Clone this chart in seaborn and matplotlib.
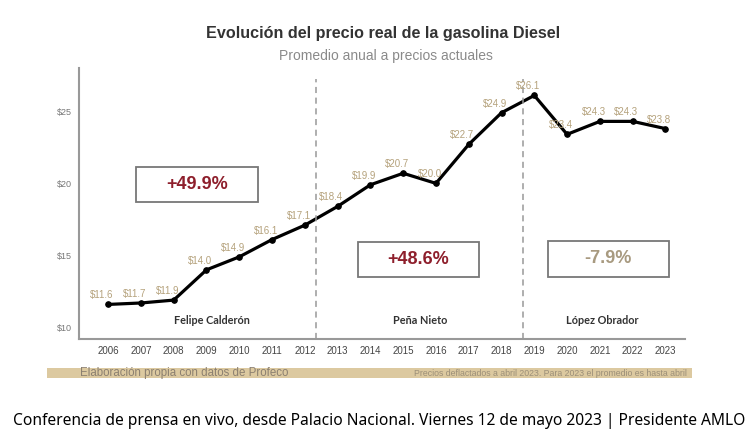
import numpy as np
import pandas as pd
import matplotlib.pyplot as plt
import seaborn as sns
from matplotlib.patches import Rectangle

# datos
years = list(range(2006, 2024))
precio = [11.6, 11.7, 11.9, 14.0, 14.9, 16.1, 17.1, 18.4, 19.9, 20.7,
          20.0, 22.7, 24.9, 26.1, 23.4, 24.3, 24.3, 23.8]
sexenios = ["Felipe Calderón", "Peña Nieto", "López Obrador"]
cambios = ["+49.9%", "+48.6%", "-7.9%"]
y_ticks = [10, 15, 20, 25]

df = pd.DataFrame({"anio": years, "precio": precio})

sns.set_theme(style="white")
plt.rcParams['font.family'] = ['Liberation Sans', 'DejaVu Sans']

fig = plt.figure(figsize=(7.5, 4.42), dpi=100)
ax = fig.add_axes([0.1053, 0.233, 0.8077, 0.613])

sns.lineplot(data=df, x="anio", y="precio", ax=ax, color="black", lw=2.3,
             marker="o", markersize=4, markeredgecolor="black")

for x, y in zip(years, precio):
    ax.annotate(f"${y:.1f}", (x, y), xytext=(-4.5, 6.5), textcoords="offset points",
                ha="center", va="center", fontsize=7, color="#b5a27c")

ax.set_xlim(2005.11, 2023.59)
ax.set_ylim(9.2, 28.0)
ax.set_xticks(years)
ax.set_xticklabels([str(y) for y in years], fontsize=7, color="#444")
ax.set_yticks(y_ticks)
ax.set_yticklabels([f"${t}" for t in y_ticks], fontsize=6.5, color="#777")
ax.tick_params(axis="both", length=0, pad=5)
ax.set_xlabel("")
ax.set_ylabel("")
sns.despine(ax=ax)
for s in ["left", "bottom"]:
    ax.spines[s].set_color("#999999")
    ax.spines[s].set_linewidth(1.5)

# cambios de sexenio
for xv in [2012.35, 2018.67]:
    ax.axvline(xv, ymin=0, ymax=0.96, color="#999999", lw=1.1, ls=(0, (4, 3)))

# cajas con el cambio porcentual
cajas = [(2006.85, 18.72, 3.72, 2.42), (2013.61, 13.52, 3.70, 2.42), (2019.41, 13.52, 3.69, 2.49)]
colores = ["#8e1f2c", "#8e1f2c", "#a89a80"]
for (x0, y0, w, h), txt, c in zip(cajas, cambios, colores):
    ax.add_patch(Rectangle((x0, y0), w, h, fill=True, facecolor="white",
                           edgecolor="#777777", lw=1.3, zorder=3))
    ax.text(x0 + w / 2, y0 + h / 2, txt, ha="center", va="center",
            fontsize=13, fontweight="bold", color=c, zorder=4)

# nombres
for xp, name in zip([2009.16, 2015.53, 2021.08], sexenios):
    ax.text(xp, 10.46, name, ha="center", va="center", fontsize=7.8,
            fontweight="bold", color="#333333", family=["Lato", "DejaVu Sans"])

# titulos
fig.text(0.511, 0.925, "Evolución del precio real de la gasolina Diesel",
         ha="center", va="center", fontsize=11.6, fontweight="bold", color="#333333")
fig.text(0.514, 0.873, "Promedio anual a precios actuales",
         ha="center", va="center", fontsize=10, color="#8a8a8a")

# banda de fuente
fig.patches.append(Rectangle((47 / 750, 1 - 378 / 442), 645 / 750, 10 / 442,
                             transform=fig.transFigure, facecolor="#dcc9a0",
                             edgecolor="none"))
fig.text(80 / 750, 1 - 373 / 442, "Elaboración propia con datos de Profeco",
         ha="left", va="center", fontsize=8.3, color="#8c8070")
fig.text(687 / 750, 1 - 373 / 442,
         "Precios deflactados a abril 2023. Para 2023 el promedio es hasta abril",
         ha="right", va="center", fontsize=6.3, color="#9c8f78")

fig.text(13 / 750, 1 - 421 / 442,
         "Conferencia de prensa en vivo, desde Palacio Nacional. Viernes 12 de mayo 2023 | Presidente AMLO",
         ha="left", va="center", fontsize=11.2, color="black",
         family=["Noto Sans", "DejaVu Sans"])

fig.savefig("out.png", dpi=100, facecolor="white")
